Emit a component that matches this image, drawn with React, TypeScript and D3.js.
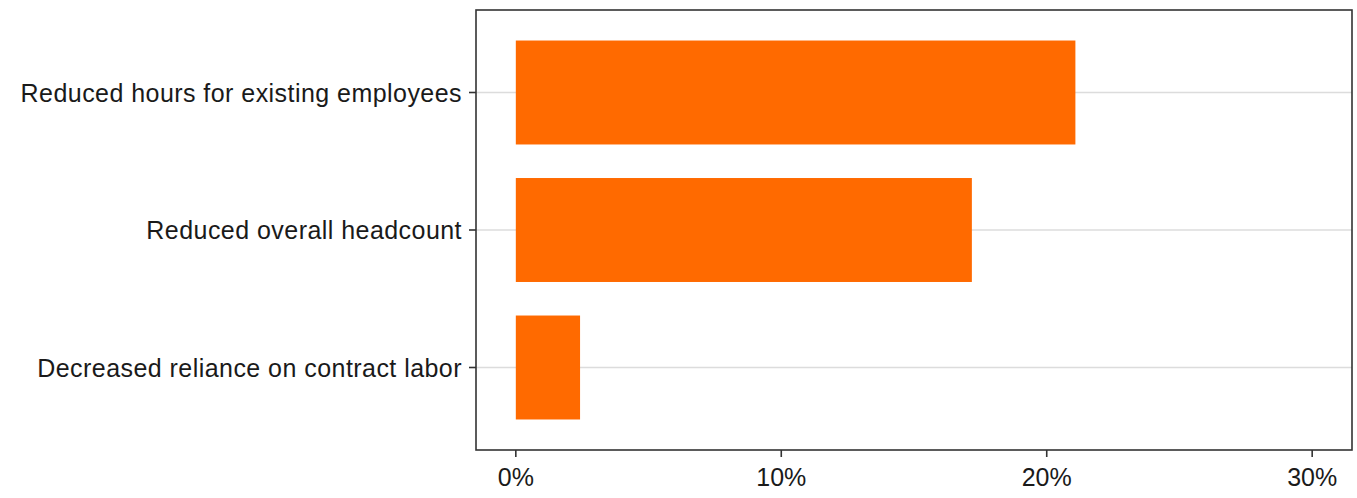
import React from "react";
import * as d3 from "d3";

const categories = [
  "Reduced hours for existing employees",
  "Reduced overall headcount",
  "Decreased reliance on contract labor",
];
const values = [0.2108, 0.1718, 0.0242];
const xTicks = [0, 0.1, 0.2, 0.3];

export default function App() {
  const W = 1357;
  const H = 498;
  const panel = { left: 476, right: 1352, top: 10, bottom: 450 };
  const x = d3.scaleLinear().domain([-0.015, 0.315]).range([panel.left, panel.right]);
  // discrete axis with ggplot-like expansion of 0.6 on each side
  const y = d3
    .scaleLinear()
    .domain([0.4, 3.6])
    .range([panel.top, panel.bottom]);
  const barHalf = 0.378;
  const fmt = d3.format(".0%");
  const font = "'Liberation Sans', Arial, sans-serif";

  return (
    <svg
      width={W}
      height={H}
      style={{ position: "absolute", left: 0, top: 0, background: "#fff" }}
    >
      {categories.map((c, i) => (
        <line
          key={"g" + i}
          x1={panel.left}
          x2={panel.right}
          y1={y(i + 1)}
          y2={y(i + 1)}
          stroke="#dcdcdc"
          strokeWidth={1.5}
        />
      ))}
      {categories.map((c, i) => (
        <rect
          key={"b" + i}
          x={x(0)}
          y={y(i + 1 - barHalf)}
          width={x(values[i]) - x(0)}
          height={y(i + 1 + barHalf) - y(i + 1 - barHalf)}
          fill="#ff6a00"
        />
      ))}
      <rect
        x={panel.left}
        y={panel.top}
        width={panel.right - panel.left}
        height={panel.bottom - panel.top}
        fill="none"
        stroke="#333"
        strokeWidth={1.6}
      />
      {categories.map((c, i) => (
        <g key={"yl" + i}>
          <line
            x1={panel.left - 7}
            x2={panel.left}
            y1={y(i + 1)}
            y2={y(i + 1)}
            stroke="#333"
            strokeWidth={1.6}
          />
          <text
            x={panel.left - 14}
            y={y(i + 1)}
            dy="0.36em"
            textAnchor="end"
            fontFamily={font}
            fontSize={25}
            letterSpacing={0.45}
            fill="#1a1a1a"
          >
            {c}
          </text>
        </g>
      ))}
      {xTicks.map((t, i) => (
        <g key={"xt" + i}>
          <line
            x1={x(t)}
            x2={x(t)}
            y1={panel.bottom}
            y2={panel.bottom + 7}
            stroke="#333"
            strokeWidth={1.6}
          />
          <text
            x={x(t)}
            y={panel.bottom + 36}
            textAnchor="middle"
            fontFamily={font}
            fontSize={25}
            fill="#1a1a1a"
          >
            {fmt(t)}
          </text>
        </g>
      ))}
    </svg>
  );
}
